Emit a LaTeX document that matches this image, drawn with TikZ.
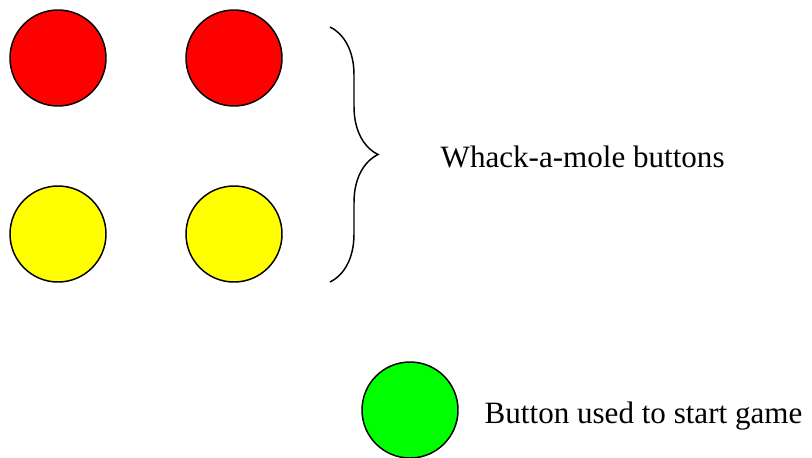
\documentclass[tikz,border=0pt]{standalone}
\usepackage{fontspec}
\setmainfont{Liberation Serif}
\usetikzlibrary{decorations.pathreplacing}
\definecolor{molered}{RGB}{255,0,0}
\definecolor{moleyellow}{RGB}{255,255,0}
\definecolor{startgreen}{RGB}{0,255,0}

\begin{document}
\begin{tikzpicture}[x=0.75pt,y=-0.75pt,line width=1.1pt,
    button/.style={circle,draw=black,minimum size=72pt,inner sep=0pt},
    note/.style={anchor=base west,inner sep=0pt,font=\fontsize{23.3}{28}\selectfont}]
  \useasboundingbox (0,0) rectangle (812,457);
  % mole buttons
  \node[button,fill=molered]    (redA)    at (58,58)   {};
  \node[button,fill=molered]    (redB)    at (234,58)  {};
  \node[button,fill=moleyellow] (yellowA) at (58,234)  {};
  \node[button,fill=moleyellow] (yellowB) at (234,234) {};
  % brace
  \coordinate (bracetop) at (330,27);
  \coordinate (bracebot) at (330,282);
  \draw[decorate,decoration={brace,amplitude=36pt}] (bracetop) -- (bracebot);
  \node[note] (molenote) at (440,167) {Whack-a-mole buttons};
  % start button
  \node[button,fill=startgreen] (start)   at (410,410) {};
  \node[note] (startnote) at (484,423) {Button used to start game};
\end{tikzpicture}
\end{document}
